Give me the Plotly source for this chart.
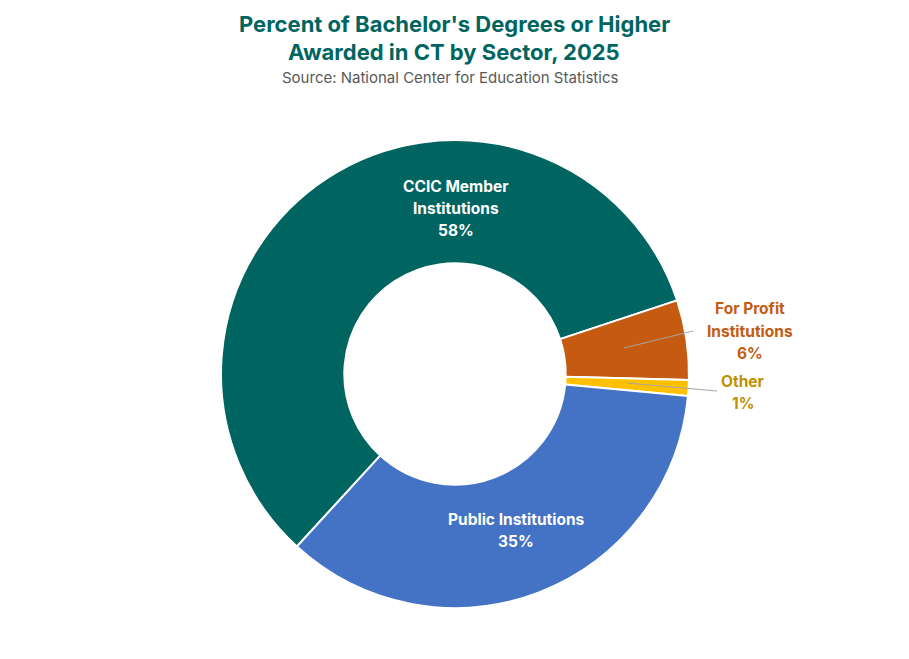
import plotly.graph_objects as go

sectors = ["CCIC Member Institutions", "For Profit Institutions", "Other", "Public Institutions"]
shares = [58.1, 5.5, 1.1, 35.3]
label_lines = [["CCIC Member", "Institutions", "58%"], ["For Profit", "Institutions", "6%"],
               ["Other", "1%"], ["Public Institutions", "35%"]]
colors = ["#006561", "#C55A11", "#FFC000", "#4472C4"]
label_colors = ["#FFFFFF", "#C55A11", "#BF9000", "#FFFFFF"]

W, H = 909, 659
cx, cy, R = 455, 374, 234

fig = go.Figure(go.Pie(
    labels=sectors, values=shares, sort=False, direction="clockwise",
    rotation=222.5, hole=0.473,
    marker=dict(colors=colors, line=dict(color="white", width=2)),
    textinfo="none", hoverinfo="label+percent", showlegend=False,
    domain=dict(x=[(cx - R) / W, (cx + R) / W], y=[(H - cy - R) / H, (H - cy + R) / H]),
))

def px(x, y):
    return x / W, 1 - y / H

font = "Inter, Lato, sans-serif"
ann = []
# label blocks: (index, center x, first line y)
for i, x, y0 in [(0, 456, 186), (3, 516, 519), (1, 750, 309), (2, 743, 381)]:
    for k, line in enumerate(label_lines[i]):
        ax, ay = px(x, y0 + k * 22.3)
        ann.append(dict(x=ax, y=ay, xref="paper", yref="paper", text="<b>" + line + "</b>",
                        showarrow=False, font=dict(family=font, size=15.5, color=label_colors[i]),
                        xanchor="center", yanchor="middle"))

shapes = []
for (x0, y0, x1, y1) in [(624, 348, 693, 331), (627, 383, 717, 391)]:
    a0, b0 = px(x0, y0)
    a1, b1 = px(x1, y1)
    shapes.append(dict(type="line", xref="paper", yref="paper", x0=a0, y0=b0, x1=a1, y1=b1,
                       line=dict(color="#A6A6A6", width=1)))

title_lines = ["Percent of Bachelor's Degrees or Higher", "Awarded in CT by Sector, 2025"]
for k, line in enumerate(title_lines):
    tx, ty = px(454, 24 + k * 28)
    ann.append(dict(x=tx, y=ty, xref="paper", yref="paper", text="<b>" + line + "</b>",
                    showarrow=False, font=dict(family=font, size=22, color="#006561"),
                    xanchor="center", yanchor="middle"))
sx, sy = px(450, 78)
ann.append(dict(x=sx, y=sy, xref="paper", yref="paper",
                text="Source: National Center for Education Statistics",
                showarrow=False, font=dict(family=font, size=15, color="#595959"),
                xanchor="center", yanchor="middle"))

fig.update_layout(width=W, height=H, margin=dict(l=0, r=0, t=0, b=0),
                  paper_bgcolor="white", plot_bgcolor="white",
                  annotations=ann, shapes=shapes)
fig.write_html("out.html")
